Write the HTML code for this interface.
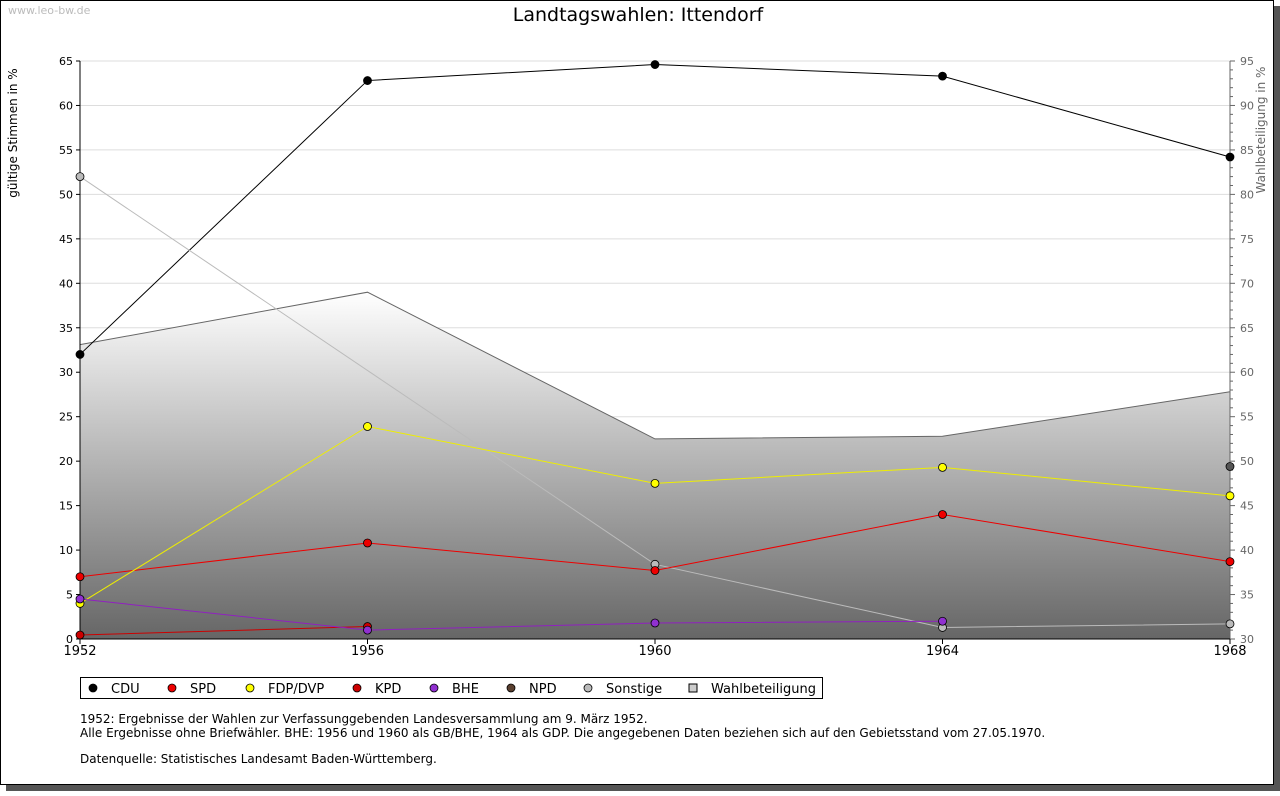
<!DOCTYPE html>
<html><head><meta charset="utf-8"><style>
body{margin:0;background:#fff;font-family:"Liberation Sans","DejaVu Sans",sans-serif}
svg text{font-family:"DejaVu Sans","Liberation Sans",sans-serif}
</style></head><body>
<svg id="c" width="1280" height="791" xmlns="http://www.w3.org/2000/svg">
<defs><linearGradient id="g" x1="0" y1="0" x2="0" y2="1" gradientUnits="userSpaceOnUse">
<stop offset="0" stop-color="#ffffff"/><stop offset="1" stop-color="#666666"/></linearGradient></defs>
<rect x="6" y="6" width="1274" height="785" fill="#555"/>
<rect x="0.5" y="0.5" width="1273" height="784" fill="#fff" stroke="#000"/>
<text x="8" y="14" font-size="11" fill="#bbb">www.leo-bw.de</text>
<text x="638" y="21" font-size="19" text-anchor="middle">Landtagswahlen: Ittendorf</text>
<text transform="translate(17,133) rotate(-90)" font-size="12" text-anchor="middle">gültige Stimmen in %</text>
<text transform="translate(1265,130) rotate(-90)" font-size="12" fill="#666" text-anchor="middle">Wahlbeteiligung in %</text>
<g id="grid"></g><g id="area"></g><g id="axes"></g><g id="lines"></g><g id="legend"></g>
<text x="80" y="723" font-size="12">1952: Ergebnisse der Wahlen zur Verfassunggebenden Landesversammlung am 9. März 1952.</text>
<text x="80" y="737" font-size="12">Alle Ergebnisse ohne Briefwähler. BHE: 1956 und 1960 als GB/BHE, 1964 als GDP. Die angegebenen Daten beziehen sich auf den Gebietsstand vom 27.05.1970.</text>
<text x="80" y="763" font-size="12">Datenquelle: Statistisches Landesamt Baden-Württemberg.</text>
</svg>
<script>
const years=[1952,1956,1960,1964,1968];
const cdu=[32.0,62.8,64.6,63.3,54.2];
const spd=[7.0,10.8,7.7,14.0,8.7];
const fdp=[4.0,23.9,17.5,19.3,16.1];
const kpd=[0.45,1.4,null,null,null];
const bhe=[4.5,1.0,1.8,2.0,null];
const npd=[null,null,null,null,19.4];
const sonst=[52.0,null,8.4,1.3,1.7];
const turnout=[63.1,69.0,52.5,52.8,57.8];
const leftTicks=[0,5,10,15,20,25,30,35,40,45,50,55,60,65];
const rightTicks=[30,35,40,45,50,55,60,65,70,75,80,85,90,95];
const NS="http://www.w3.org/2000/svg";
const X0=80,X1=1230,Y0=639,Y1=61;
const xs=y=>X0+(y-1952)/(1968-1952)*(X1-X0);
const ys=v=>Y0-v/65*(Y0-Y1);
const ys2=v=>Y0-(v-30)/65*(Y0-Y1);
function mk(p,t,a){const e=document.createElementNS(NS,t);for(const k in a)e.setAttribute(k,a[k]);document.getElementById(p).appendChild(e);return e;}
leftTicks.forEach(v=>{
 const g=mk('grid','line',{x1:X0,x2:X1,y1:ys(v),y2:ys(v),stroke:'#ddd'});
 
 
 const t=mk('axes','text',{x:X0-7,y:ys(v)+4,'font-size':11,'text-anchor':'end'});t.textContent=v;
 
 
 mk('axes','line',{x1:X0-4,x2:X0,y1:ys(v),y2:ys(v),stroke:'#000'});
});
for(let v=30;v<=95;v++){mk('axes','line',{x1:X1,x2:X1+(v%5?3:5),y1:ys2(v),y2:ys2(v),stroke:'#666'});}
rightTicks.forEach(v=>{const t=mk('axes','text',{x:X1+10,y:ys2(v)+4,'font-size':11,fill:'#666'});t.textContent=v;
 
 });
let d='M'+xs(years[0])+','+Y0;years.forEach((y,i)=>d+=' L'+xs(y)+','+ys2(turnout[i]));d+=' L'+xs(years[4])+','+Y0+'Z';
const ar=mk('area','path',{d:d,fill:'url(#g)'});


document.querySelector('#g').setAttribute('y1',ys2(69));document.querySelector('#g').setAttribute('y2',Y0);document.querySelector('#g').setAttribute('x2',0);
let d2='';years.forEach((y,i)=>d2+=(i?' L':'M')+xs(y)+','+ys2(turnout[i]));
const tl=mk('area','path',{d:d2,fill:'none',stroke:'#666'});


mk('axes','line',{x1:X0,x2:X0,y1:Y1,y2:Y0,stroke:'#000'});
mk('axes','line',{x1:X1,x2:X1,y1:Y1,y2:Y0,stroke:'#666'});
mk('axes','line',{x1:X0,x2:X1,y1:Y0,y2:Y0,stroke:'#000'});
years.forEach(y=>{mk('axes','line',{x1:xs(y),x2:xs(y),y1:Y0,y2:Y0+5,stroke:'#000'});
 const t=mk('axes','text',{x:xs(y),y:Y0+16,'font-size':13,'text-anchor':'middle'});t.textContent=y;
 
 });
const series=[['cdu',cdu,'#000','#000'],['sonstige',sonst,'#bbb','#bbb'],['spd',spd,'#e00','#e00'],['fdp',fdp,'#ee0','#ff0'],['kpd',kpd,'#c00','#c00'],['bhe',bhe,'#9020c0','#9030d0'],['npd',npd,'#555','#555']];
series.forEach(([n,arr,col,fill])=>{
 let p='';let first=true;
 arr.forEach((v,i)=>{if(v==null)return;p+=(first?'M':' L')+xs(years[i])+','+ys(v);first=false;});
 const l=mk('lines','path',{d:p,fill:'none',stroke:col});
 
 
 arr.forEach((v,i)=>{if(v==null)return;const c=mk('lines','circle',{cx:xs(years[i]),cy:ys(v),r:4,fill:fill,stroke:'#000','stroke-width':0.8});
  
  });
});
const lb=mk('legend','rect',{x:80.5,y:677.5,width:742,height:21,fill:'#fff',stroke:'#000'});


const leg=[['CDU','#000',93,'c'],['SPD','#e00',172,'c'],['FDP/DVP','#ff0',250,'c'],['KPD','#c00',357,'c'],['BHE','#9030d0',434,'c'],['NPD','#5a4030',511,'c'],['Sonstige','#bbb',588,'c'],['Wahlbeteiligung','#ccc',693,'s']];
leg.forEach(([t,c,x,k])=>{
 let m;
 if(k=='c')m=mk('legend','circle',{cx:x,cy:688,r:4,fill:c,stroke:'#000','stroke-width':0.8});
 else m=mk('legend','rect',{x:x-4,y:684,width:8,height:8,fill:c,stroke:'#000'});
 
 
 const tx=mk('legend','text',{x:x+18,y:693,'font-size':13});tx.textContent=t;
 
 
});
</script>
</body></html>
